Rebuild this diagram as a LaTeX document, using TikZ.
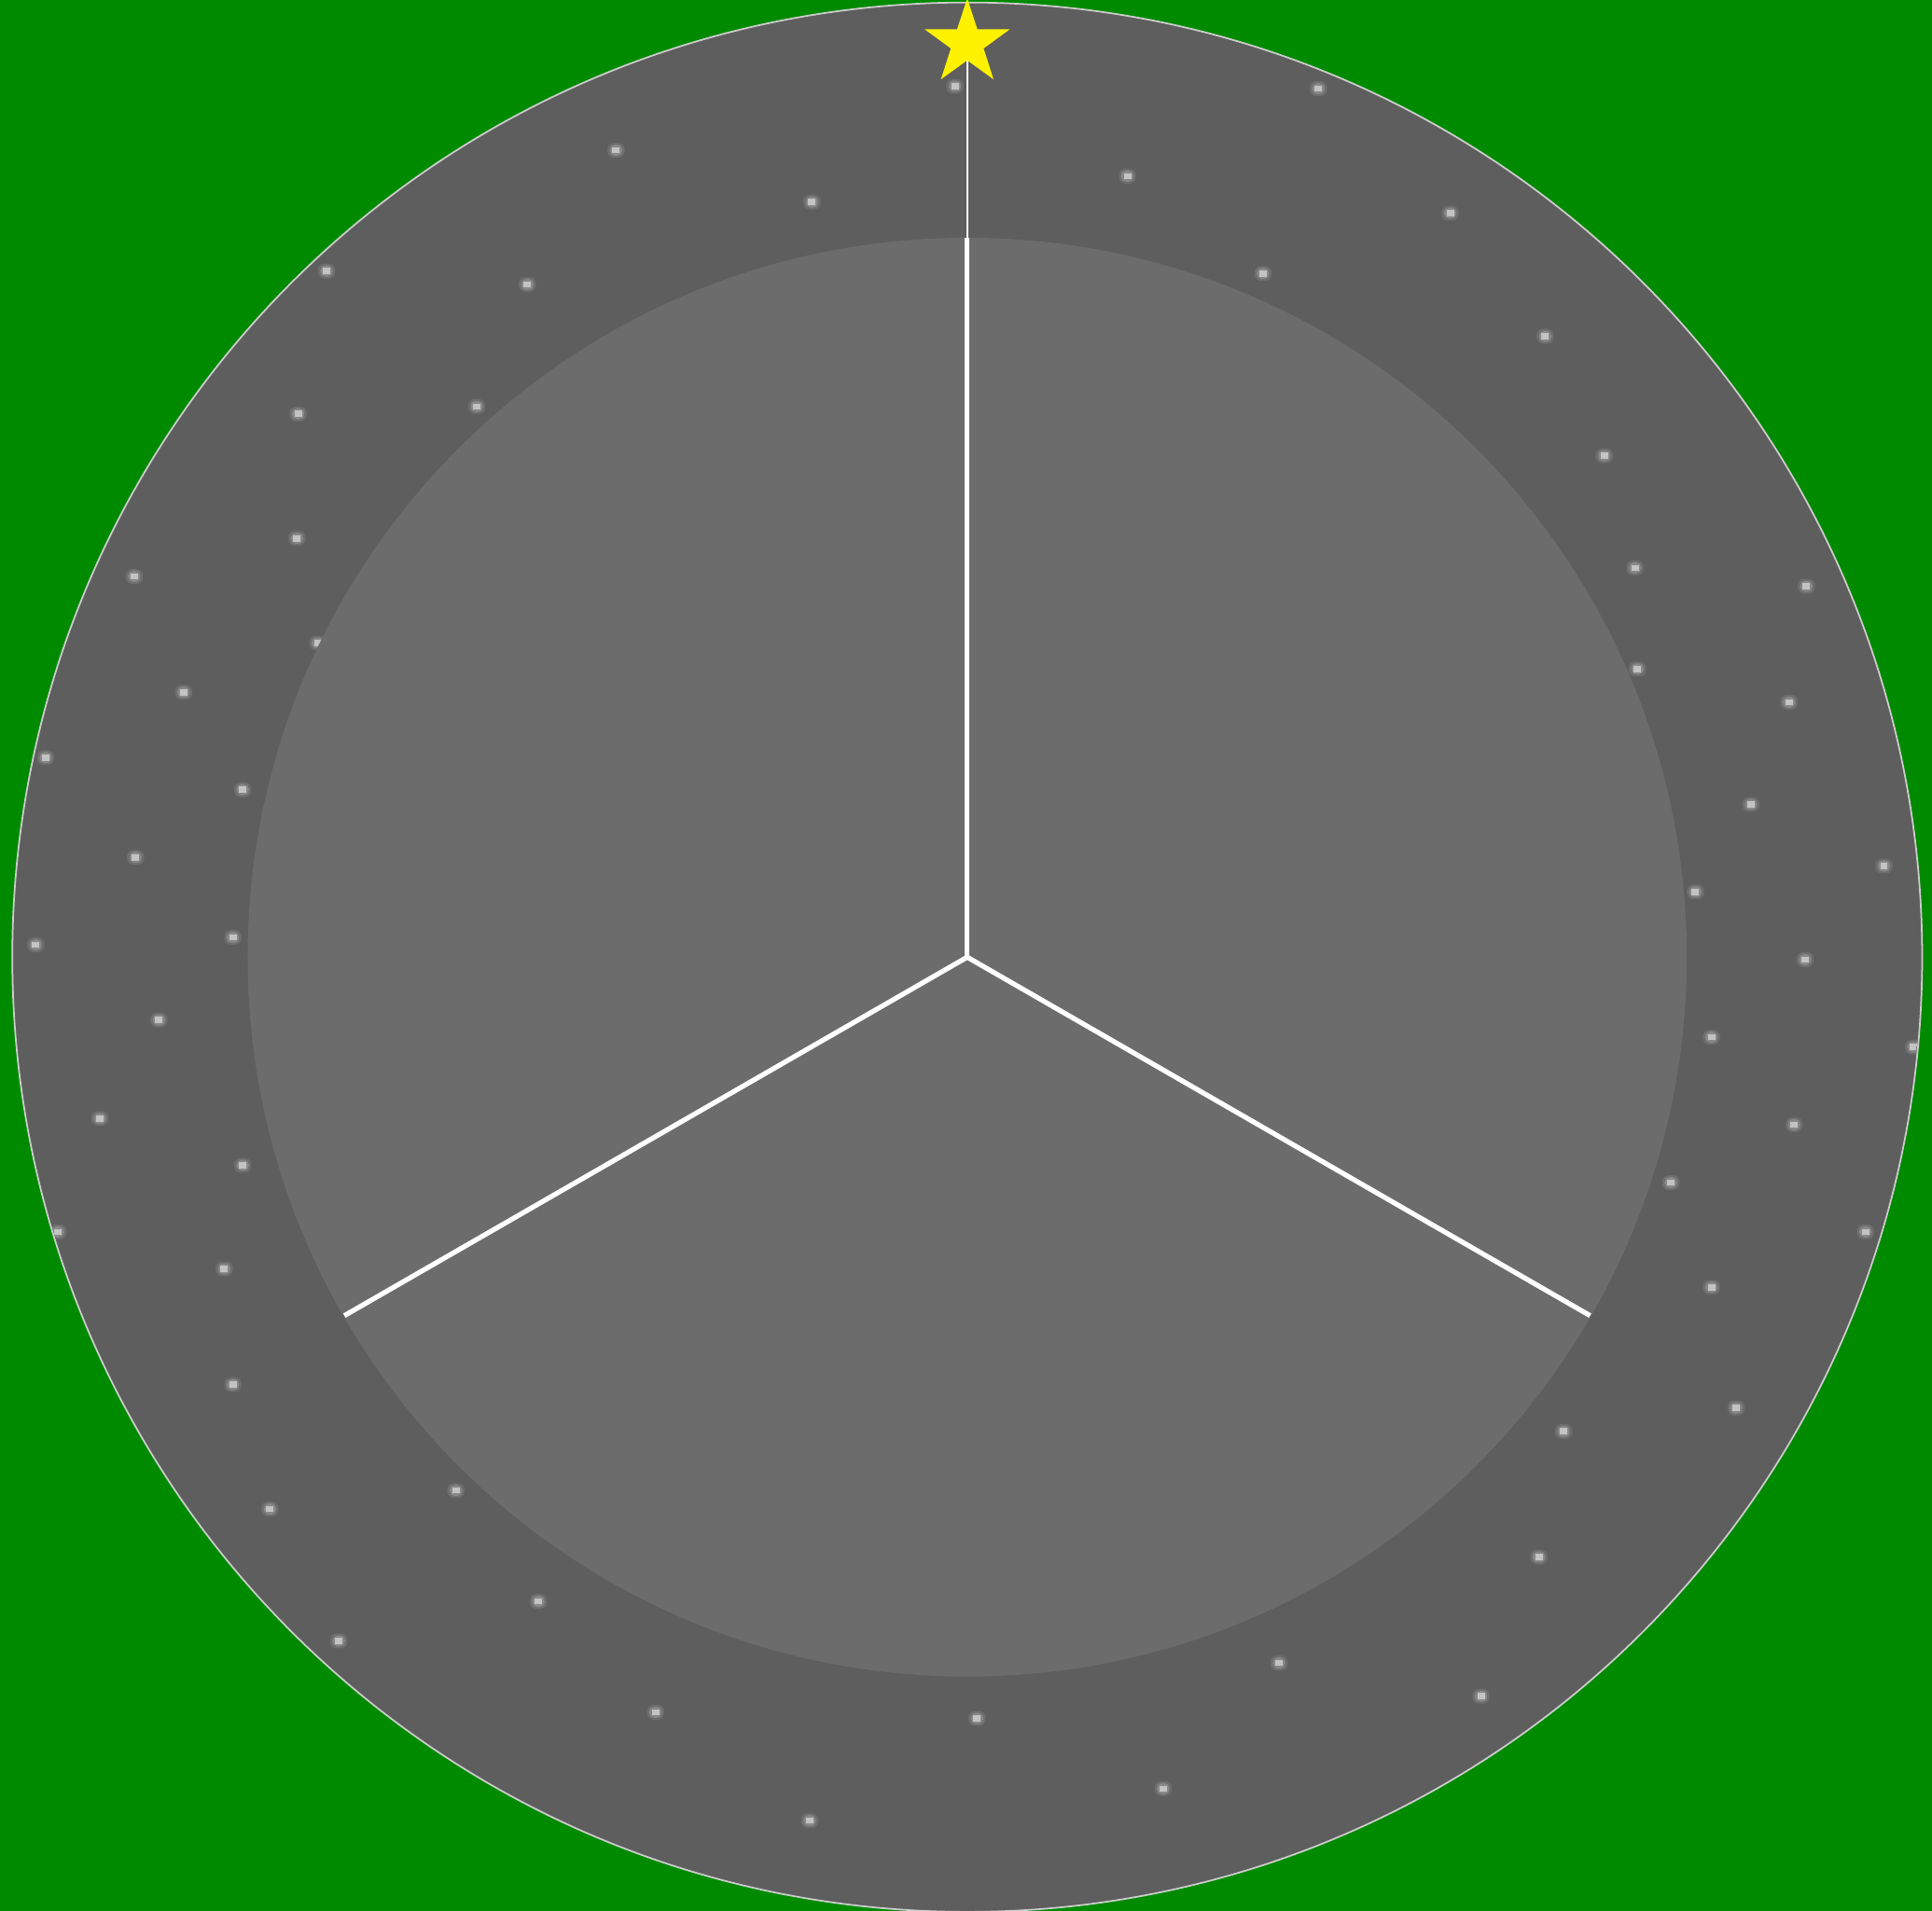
\documentclass[tikz,border=0pt]{standalone}
\usetikzlibrary{shapes.geometric}
\definecolor{fieldgreen}{RGB}{0,138,0}
\definecolor{ringgray}{RGB}{94,94,94}
\definecolor{diskgray}{RGB}{108,108,108}
\definecolor{rimgray}{RGB}{205,205,205}
\tikzset{
  ringdisc/.style={fill=ringgray, draw=rimgray, line width=0.5pt},
  innerdisc/.style={fill=diskgray},
  spoke/.style={draw=white, line width=1.5pt},
  mastline/.style={draw=white, line width=0.6pt},
  topstar/.style={
    star,
    star points=5,
    star point ratio=2.6,
    fill=yellow,
    inner sep=0pt,
    minimum size=9.6mm
  },
  dothaze/.style={fill=white, opacity=.1},
  dotglow/.style={fill=white, opacity=.18},
  dotcore/.style={fill=white, opacity=.5}
}

\begin{document}
\begin{tikzpicture}[x=0.13208mm, y=-0.13208mm]
  \fill[fieldgreen] (0,0) rectangle (1568,1551);
  \useasboundingbox (0,0) rectangle (1568,1551);

  \coordinate (hub) at (785,777);
  \coordinate (topend) at (785,193);
  \coordinate (leftend) at (279.5,1068);
  \coordinate (rightend) at (1290.5,1068);
  \coordinate (starpos) at (785,35);

  % outer ring
  \path[ringdisc] (hub) circle[radius=775];

  % specks in the ring
  \begin{scope}
    \clip (hub) circle[radius=774];
    \foreach \px/\py in {775/70, 1070/72, 500/122, 915/143, 659/164, 1177/173,
      265/220, 1025/222, 428/231, 1254/273, 387/330, 242/336, 1302/370,
      241/437, 1327/461, 109/468, 1466/476, 258/522, 1329/543, 149/562,
      1452/570, 37/615, 197/641, 1421/653, 110/696, 1529/703, 1376/724,
      189/761, 29/767, 1465/779, 129/828, 1389/842, 1553/850, 81/908,
      1456/913, 197/946, 1356/960, 47/1000, 1514/1000, 182/1030, 1389/1045,
      189/1124, 1409/1143, 1269/1162, 219/1225, 370/1210, 1249/1264,
      437/1300, 275/1332, 1038/1350, 1202/1377, 532/1390, 793/1395,
      944/1452, 657/1478} {
      \fill[dothaze, rounded corners=2] (\px-7,\py-6) rectangle (\px+7,\py+6);
      \fill[dotglow, rounded corners=1.5] (\px-5,\py-4.5) rectangle (\px+5,\py+4.5);
      \fill[dotcore] (\px-3,\py-2.5) rectangle (\px+3,\py+2.5);
    }
  \end{scope}

  % inner disc
  \path[innerdisc] (hub) circle[radius=584];

  \draw[mastline] (topend) -- (starpos);
  \draw[spoke] (hub) -- (topend);
  \draw[spoke] (hub) -- (leftend);
  \draw[spoke] (hub) -- (rightend);

  \node[topstar] (star) at (starpos) {};
\end{tikzpicture}
\end{document}
